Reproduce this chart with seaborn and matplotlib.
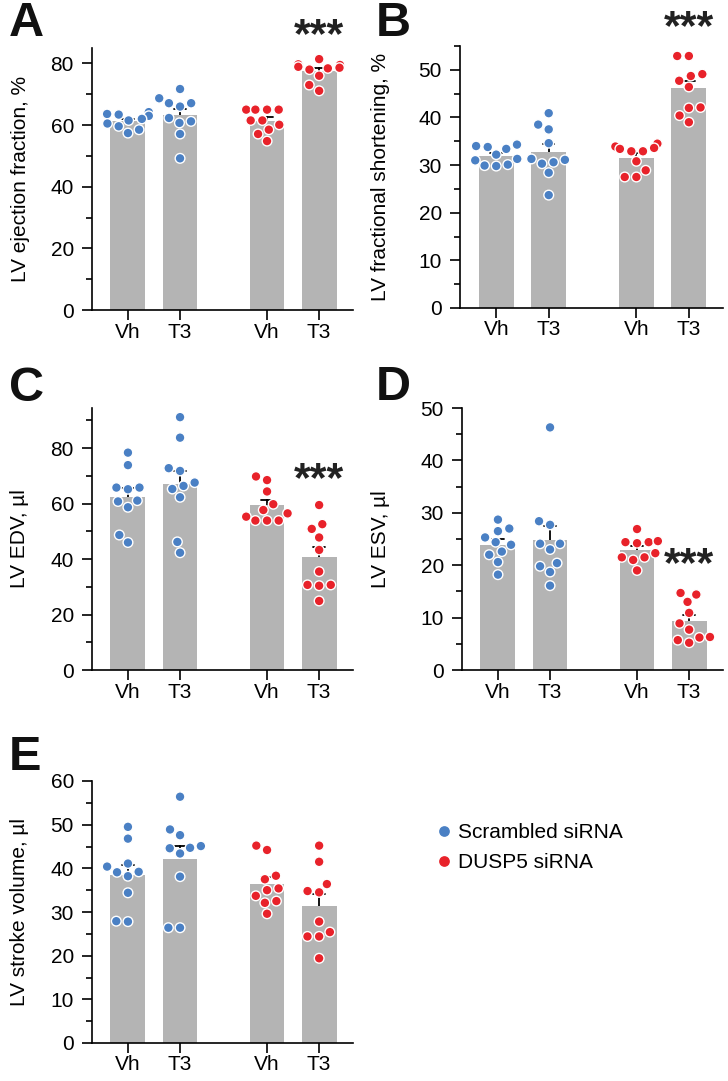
"""
LV echo parameters: scrambled vs DUSP5 siRNA, vehicle vs T3.
"""
import matplotlib.pyplot as plt
import numpy as np
import pandas as pd
import seaborn as sns
from matplotlib.lines import Line2D
from matplotlib.ticker import MultipleLocator

# Conditions, in plotting order
CONDITIONS = ['Scrambled Vh', 'Scrambled T3', 'DUSP5 Vh', 'DUSP5 T3']
GROUPS = ['Scrambled siRNA', 'Scrambled siRNA', 'DUSP5 siRNA', 'DUSP5 siRNA']
TICK_LABELS = ['Vh', 'T3', 'Vh', 'T3']
LEGEND_LABELS = ['Scrambled siRNA', 'DUSP5 siRNA']

# Individual animals, one list per condition
ejection_fraction = [
    [64.2, 63.6, 63.4, 63.0, 62.0, 61.5, 60.5, 59.6, 58.5, 57.4],
    [71.7, 67.1, 67.1, 68.7, 66.0, 62.3, 61.2, 60.7, 57.1, 49.2],
    [65.0, 65.0, 65.0, 65.0, 61.5, 61.5, 60.1, 58.5, 57.1, 54.8],
    [81.4, 79.5, 79.7, 78.6, 78.4, 78.9, 78.0, 76.0, 73.0, 71.1],
]
fractional_shortening = [
    [34.3, 34.0, 33.8, 33.4, 32.2, 31.3, 31.0, 30.1, 29.9, 29.8],
    [40.9, 38.5, 37.5, 34.6, 31.3, 31.1, 30.3, 30.6, 28.4, 23.7],
    [34.5, 33.9, 33.6, 33.4, 32.9, 32.9, 30.8, 28.9, 27.5, 27.5],
    [52.9, 52.9, 49.1, 47.7, 48.7, 46.4, 42.1, 42.0, 40.4, 39.0],
]
edv = [
    [78.4, 73.9, 65.8, 65.8, 65.2, 60.8, 61.1, 58.7, 48.7, 46.0],
    [91.2, 83.8, 71.8, 72.8, 65.3, 66.4, 67.6, 62.3, 46.2, 42.3],
    [69.8, 68.5, 64.4, 59.8, 57.7, 56.5, 55.3, 53.9, 53.9, 53.9],
    [59.5, 52.6, 50.9, 47.8, 43.3, 35.5, 30.7, 30.4, 30.7, 24.9],
]
esv = [
    [28.7, 25.3, 26.5, 27.0, 23.9, 24.4, 22.6, 22.0, 20.6, 18.2],
    [46.3, 28.4, 27.7, 24.1, 24.1, 23.0, 20.4, 19.8, 18.7, 16.1],
    [26.9, 24.4, 24.4, 24.2, 24.6, 22.3, 21.5, 21.5, 21.0, 19.0],
    [14.4, 14.7, 13.0, 10.9, 8.9, 7.7, 6.3, 6.2, 5.2, 5.7],
]
stroke_volume = [
    [49.5, 46.8, 40.4, 41.1, 38.2, 39.2, 39.1, 34.4, 27.8, 27.9],
    [56.4, 48.9, 47.6, 45.1, 44.7, 44.6, 43.4, 38.1, 26.4, 26.4],
    [45.2, 44.2, 37.5, 38.3, 35.4, 35.0, 33.7, 32.1, 32.5, 29.6],
    [45.2, 41.5, 36.4, 34.5, 34.8, 27.8, 25.4, 24.4, 24.4, 19.4],
]

# Layout / style
POSITIONS = [0, 1, 2.67, 3.67]
PALETTE = {'Scrambled siRNA': '#4a80c4', 'DUSP5 siRNA': '#e8222a'}
BAR_COLOR = '#b4b4b4'
FONT = ['Liberation Sans', 'DejaVu Sans']
FONT_SIZE = 15
FIG_W, FIG_H = 728, 1081

# letter, values, ylabel, ymax, major, minor,
# axes box (px: left, bottom, width), ylabel x (px), star y, letter xy (px)
PANELS = [
    ('A', ejection_fraction, 'LV ejection fraction, %', 85, 20, 10, (92, 310, 261), 30, 91.5, (9, 1)),
    ('B', fractional_shortening, 'LV fractional shortening, %', 55, 10, 5, (460, 308, 263), 390, 60.5, (376, 1)),
    ('C', edv, 'LV EDV, µl', 94.5, 20, 10, (92, 670, 261), 29, 71.5, (9, 366)),
    ('D', esv, 'LV ESV, µl', 50, 10, 5, (462, 670, 261), 390, 21.5, (376, 365)),
    ('E', stroke_volume, 'LV stroke volume, µl', 60, 10, 5, (92, 1043, 261), 29, None, (9, 735)),
]


def to_frame(values):
    rows = []
    for cond, group, pos, vals in zip(CONDITIONS, GROUPS, POSITIONS, values):
        for v in vals:
            rows.append({'condition': cond, 'group': group, 'pos': pos, 'value': v})
    return pd.DataFrame(rows)


def plot_panel(fig, letter, values, ylabel, ymax, major, minor, box, label_x, star_y, letter_xy):
    left, bottom, width = box
    height = 262
    ax = fig.add_axes([left / FIG_W, 1 - bottom / FIG_H, width / FIG_W, height / FIG_H])
    df = to_frame(values)

    sns.barplot(data=df, x='pos', y='value', native_scale=True, color=BAR_COLOR,
                saturation=1, width=0.67, linewidth=0, errorbar='se', capsize=0.22,
                err_kws={'color': 'black', 'linewidth': 1.3, 'zorder': 0.9}, ax=ax)
    sns.swarmplot(data=df, x='pos', y='value', hue='group', native_scale=True,
                  palette=PALETTE, size=7.0, linewidth=1, edgecolor='white',
                  legend=False, warn_thresh=1, ax=ax)

    ax.set_xlim(-0.69, 4.32)
    ax.set_ylim(0, ymax)
    ax.set_xticks(POSITIONS)
    ax.set_xticklabels(TICK_LABELS)
    ax.yaxis.set_major_locator(MultipleLocator(major))
    ax.yaxis.set_minor_locator(MultipleLocator(minor))
    ax.set_xlabel(None)
    ax.set_ylabel(ylabel, fontsize=FONT_SIZE, color='black')
    ax.yaxis.set_label_coords((label_x - left) / width, 0.5)
    ax.tick_params(axis='both', which='major', labelsize=FONT_SIZE, length=7, width=1.2,
                   color='black', labelcolor='black')
    ax.tick_params(axis='x', which='major', pad=2)
    ax.tick_params(axis='y', which='major', pad=6)
    ax.tick_params(axis='y', which='minor', length=4, width=1.2, color='black')
    for side in ['top', 'right']:
        ax.spines[side].set_visible(False)
    for side in ['left', 'bottom']:
        ax.spines[side].set_linewidth(1.2)
        ax.spines[side].set_color('black')

    if star_y is not None:
        ax.annotate('***', xy=(POSITIONS[3], star_y), xytext=(0, -13.6),
                    textcoords='offset points', ha='center', va='baseline',
                    fontsize=31, fontweight='bold', color='#222222',
                    annotation_clip=False)

    fig.text(letter_xy[0] / FIG_W, 1 - letter_xy[1] / FIG_H, letter,
             fontsize=35, fontweight='bold', ha='left', va='top', color='#111111')
    return ax


def main():
    sns.set_theme(style='ticks')
    plt.rcParams['font.family'] = FONT
    plt.rcParams['text.color'] = 'black'
    fig = plt.figure(figsize=(FIG_W / 100, FIG_H / 100), dpi=100)

    for panel in PANELS:
        plot_panel(fig, *panel)

    handles = [Line2D([], [], marker='o', linestyle='', markersize=6.7,
                      markerfacecolor=PALETTE[g], markeredgecolor=PALETTE[g])
               for g in LEGEND_LABELS]
    fig.legend(handles, LEGEND_LABELS, loc='upper left',
               bbox_to_anchor=(434 / FIG_W, 1 - 823 / FIG_H), frameon=False,
               fontsize=FONT_SIZE, handletextpad=0.15, handlelength=1.0,
               labelspacing=0.55, borderaxespad=0, borderpad=0)

    fig.savefig('out.png', dpi=100)
    plt.close(fig)


if __name__ == '__main__':
    main()
